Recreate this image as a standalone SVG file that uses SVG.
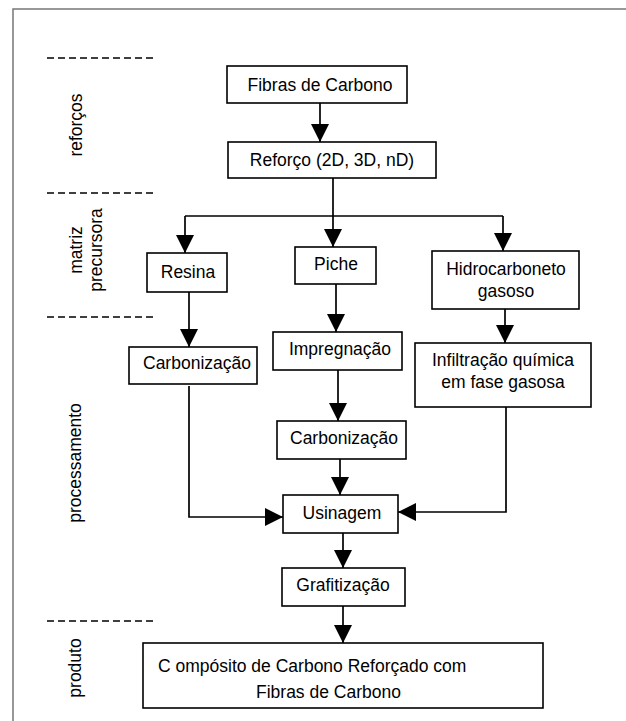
<svg xmlns="http://www.w3.org/2000/svg" width="626" height="721" viewBox="0 0 626 721">
<style>
.box{fill:#fff;stroke:#000;stroke-width:1.6}
.t{font-family:"Liberation Sans",Arial,sans-serif;font-size:17.5px;fill:#000;text-anchor:middle}
.ts{font-family:"Liberation Sans",Arial,sans-serif;font-size:17.5px;fill:#000}
.c{fill:none;stroke:#000;stroke-width:1.7}
.dash{stroke:#000;stroke-width:1.3;stroke-dasharray:7 4}
.frame{fill:none;stroke:#777;stroke-width:1.5}
</style>
<defs>
<marker id="ah" markerUnits="userSpaceOnUse" markerWidth="18" markerHeight="18" viewBox="0 0 18 18" refX="18" refY="9" orient="auto">
<path d="M0,0 L18,9 L0,18 z" fill="#000"/>
</marker>
</defs>
<rect width="626" height="721" fill="#fff"/>
<path class="frame" d="M13,721 V9 H626"/>
<g id="sections">
<line class="dash" x1="47" y1="58" x2="157" y2="58"/>
<line class="dash" x1="47" y1="193" x2="157" y2="193"/>
<line class="dash" x1="47" y1="317" x2="157" y2="317"/>
<line class="dash" x1="47" y1="621" x2="157" y2="621"/>
<text class="t" transform="translate(82,125) rotate(-90)">reforços</text>
<text class="t" transform="translate(82,250) rotate(-90)">matriz</text>
<text class="t" transform="translate(102,250) rotate(-90)">precursora</text>
<text class="t" transform="translate(81,463) rotate(-90)">processamento</text>
<text class="t" transform="translate(81,668) rotate(-90)">produto</text>
</g>
<g id="connectors">
<path class="c" d="M320,103 V142" marker-end="url(#ah)"/>
<path class="c" d="M333,178 V216"/>
<path class="c" d="M185,216 H503"/>
<path class="c" d="M185,216 V253" marker-end="url(#ah)"/>
<path class="c" d="M333,216 V247" marker-end="url(#ah)"/>
<path class="c" d="M503,216 V251" marker-end="url(#ah)"/>
<path class="c" d="M189,292 V347" marker-end="url(#ah)"/>
<path class="c" d="M336,284 V332" marker-end="url(#ah)"/>
<path class="c" d="M505,309 V343" marker-end="url(#ah)"/>
<path class="c" d="M189,386 V517 H283" marker-end="url(#ah)"/>
<path class="c" d="M338,370 V421" marker-end="url(#ah)"/>
<path class="c" d="M340,459 V495" marker-end="url(#ah)"/>
<path class="c" d="M506,407 V512 H398" marker-end="url(#ah)"/>
<path class="c" d="M343,533 V568" marker-end="url(#ah)"/>
<path class="c" d="M343,606 V643" marker-end="url(#ah)"/>
</g>
<g id="fibras"><rect class="box" x="227" y="66" width="180" height="37"/><text class="t" x="320" y="91">Fibras de Carbono</text></g>
<g id="reforco"><rect class="box" x="228" y="142" width="208" height="36"/><text class="t" x="332" y="166">Reforço (2D, 3D, nD)</text></g>
<g id="resina"><rect class="box" x="147" y="253" width="80" height="39"/><text class="t" x="188" y="278">Resina</text></g>
<g id="piche"><rect class="box" x="295" y="247" width="81" height="37"/><text class="t" x="336" y="270">Piche</text></g>
<g id="hidrocarboneto"><rect class="box" x="432" y="251" width="147" height="58"/><text class="t" x="506" y="275">Hidrocarboneto</text><text class="t" x="506" y="297">gasoso</text></g>
<g id="carbonizacao1"><rect class="box" x="129" y="347" width="128" height="37"/><text class="t" x="197" y="369">Carbonização</text></g>
<g id="impregnacao"><rect class="box" x="273" y="332" width="129" height="38"/><text class="t" x="340" y="355">Impregnação</text></g>
<g id="infiltracao"><rect class="box" x="415" y="343" width="176" height="64"/><text class="t" x="503" y="366">Infiltração química</text><text class="t" x="503" y="388">em fase gasosa</text></g>
<g id="carbonizacao2"><rect class="box" x="277" y="421" width="129" height="38"/><text class="t" x="344" y="444">Carbonização</text></g>
<g id="usinagem"><rect class="box" x="283" y="495" width="115" height="38"/><text class="t" x="342" y="519">Usinagem</text></g>
<g id="grafitizacao"><rect class="box" x="282" y="568" width="123" height="38"/><text class="t" x="343" y="591">Grafitização</text></g>
<g id="produto"><rect class="box" x="143" y="643" width="400" height="65"/><text class="ts" x="158" y="672">C ompósito de Carbono Reforçado com</text><text class="ts" x="256" y="698">Fibras de Carbono</text></g>
</svg>
